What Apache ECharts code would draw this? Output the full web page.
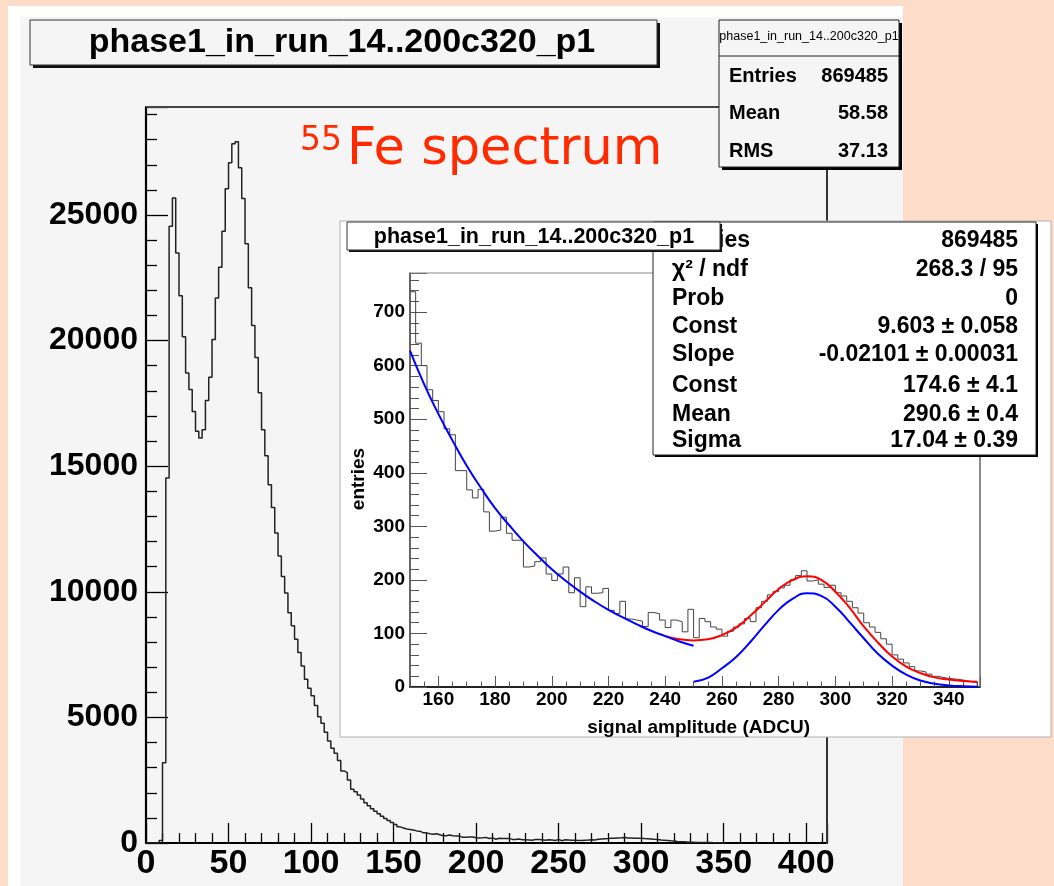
<!DOCTYPE html>
<html><head><meta charset="utf-8">
<script src="https://cdn.jsdelivr.net/npm/echarts@6/dist/echarts.min.js"></script>
<style>html,body{margin:0;padding:0;background:#fddcc9;}#c{width:1054px;height:886px;}</style>
</head><body><div id="c"></div>
<script>
// ---------------- data ----------------
const histTitle = 'phase1_in_run_14..200c320_p1';
const binWidth = 2;
// main histogram: bins of width 2 starting at 0, up to 150
const mainStart = 0;
const mainCountsLow = [
  0, 0, 0, 0, 100, 3190, 14530, 24550, 25680, 23490,
  21790, 20150, 18710, 18050, 17180, 16390, 16120, 16450, 17620, 18540,
  20040, 21700, 22920, 24350, 26050, 27080, 27840, 27920, 26880, 25660,
  23860, 22100, 20600, 19330, 17920, 16450, 15420, 14260, 13360, 12340,
  11430, 10610, 9950, 9170, 8650, 8110, 7580, 7050, 6520, 6160,
  5860, 5470, 5030, 4770, 4410, 4060, 3770, 3570, 3280, 2870,
  2800, 2510, 2140, 2040, 1910, 1750, 1600, 1480, 1360, 1260,
  1160, 1060, 980, 900, 820
];
// zoomed histogram: bins of width 2 from 150 to 350
const insetStart = 150;
const insetCounts = [
  738, 642, 600, 555, 535, 514, 482, 471, 404, 404,
  368, 353, 369, 327, 291, 293, 317, 287, 274, 274,
  224, 226, 234, 241, 211, 199, 211, 224, 176, 204,
  150, 187, 175, 176, 184, 143, 137, 160, 127, 125,
  123, 113, 139, 137, 125, 111, 125, 122, 103, 145,
  92, 128, 122, 112, 108, 95, 104, 112, 118, 128,
  122, 148, 160, 172, 178, 185, 190, 200, 208, 217,
  198, 200, 192, 186, 190, 176, 170, 160, 148, 138,
  120, 112, 102, 90, 80, 60, 52, 45, 38, 30,
  28, 24, 20, 18, 16, 15, 14, 12, 10, 8
];
// fit curves
const expFit = [[150,628],[155,565],[160,510],[165,460],[170,413],[175,372],[180,334],[185,302],[190,272],[195,245],[200,220],[205,198],[210,178],[215,160],[220,144],[225,130],[230,117],[235,105],[240,95],[245,85],[250,77]];
const totalFit = [[240,95],[245,89],[250,87],[255,89],[260,97],[265,111],[270,133],[275,158],[280,183],[285,200],[290,207],[295,200],[300,178],[305,148],[310,113],[315,83],[320,57],[325,38],[330,26],[335,18],[340,14],[345,11],[350,10]];
const gausFit = [[250,10],[255,17],[260,35],[265,56],[270,84],[275,115],[280,144],[285,165],[290,175],[295,170],[300,150],[305,121],[310,91],[315,62],[320,40],[325,23],[330,12],[335,6],[340,3],[345,1.4],[350,0.6]];
const mainStats = [['Entries','869485'],['Mean','58.58'],['RMS','37.13']];
const fitStats = [['Entries','869485'],['\u03c7\u00b2 / ndf','268.3 / 95'],['Prob','0'],['Const','9.603 \u00b1 0.058'],['Slope','-0.02101 \u00b1 0.00031'],['Const','174.6 \u00b1 4.1'],['Mean','290.6 \u00b1 0.4'],['Sigma','17.04 \u00b1 0.39']];
const insetXName = 'signal amplitude (ADCU)';
const insetYName = 'entries';
const annotSup = '55';
const annotText = 'Fe spectrum';

// ---------------- build ----------------
function histPoints(start, w, counts) {
  const pts = [];
  counts.forEach((c, i) => pts.push([start + i * w, c]));
  const end = start + counts.length * w;
  pts.push([end, counts[counts.length - 1]]);
  pts.push([end, 0]);
  return pts;
}
const mainCounts = mainCountsLow.concat(insetCounts);
const FF = '"Liberation Sans", Arial, sans-serif';

function txt(x, y, text, size, opts) {
  opts = opts || {};
  return {
    type: 'text', x: x, y: y, z: opts.z || 20, zlevel: opts.zlevel || 0, silent: true,
    rotation: opts.rotation || 0,
    style: {
      text: text, fontSize: size, fontWeight: opts.weight || 'bold',
      fontFamily: opts.family || FF, fill: opts.color || '#000',
      align: opts.align || 'left', textAlign: opts.align || 'left',
      verticalAlign: 'middle', textVerticalAlign: 'middle'
    }
  };
}
function rect(x, y, w, h, fill, stroke, lw, z, zl) {
  return { type: 'rect', silent: true, z: z, zlevel: zl, shape: { x: x, y: y, width: w, height: h },
    style: { fill: fill, stroke: stroke || null, lineWidth: lw || 0 } };
}
function line(x1, y1, x2, y2, color, lw, z, zl) {
  return { type: 'line', silent: true, z: z, zlevel: zl, shape: { x1: x1, y1: y1, x2: x2, y2: y2 },
    style: { stroke: color, lineWidth: lw } };
}

const G = [];
// page
G.push(rect(8, 6, 895, 880, '#ffffff', null, 0, 0, 0));
G.push(rect(20, 17, 883, 869, '#f5f5f5', null, 0, 1, 0));
// main frame lines
G.push(line(146, 107, 827, 107, '#444', 2, 5, 0));
G.push(line(827, 107, 827, 844, '#333', 2, 5, 0));
// main title box
G.push(rect(33, 23, 627, 45, '#111', null, 0, 10, 0));
G.push(rect(30, 20, 627, 45, '#f5f5f5', '#333', 1, 11, 0));
G.push(txt(342, 43, histTitle, 34, { z: 12, align: 'center' }));
// main stats box
G.push(rect(722, 23, 180, 147, '#000', null, 0, 10, 0));
G.push(rect(719, 20, 180, 147, '#f5f5f5', '#222', 1, 11, 0));
G.push(line(719, 56, 899, 56, '#222', 1, 12, 0));
G.push(txt(809, 37, histTitle, 12.5, { z: 12, weight: 'normal', align: 'center' }));
mainStats.forEach((r, i) => {
  const y = 76 + i * 37.5;
  G.push(txt(729, y, r[0], 20, { z: 12 }));
  G.push(txt(888, y, r[1], 20, { z: 12, align: 'right' }));
});
// red annotation
G.push(txt(300, 141, annotSup, 33, { z: 12, weight: 'normal', color: '#ff2a00', family: '"DejaVu Sans", sans-serif' }));
G.push(txt(347, 151, annotText, 51, { z: 12, weight: 'normal', color: '#ff2a00', family: '"DejaVu Sans", sans-serif' }));

// inset pad
G.push(rect(340, 221, 711, 516, '#ffffff', '#b0b0b0', 1, 0, 1));
G.push(line(410, 273, 980, 273, '#888', 1, 5, 1));
G.push(line(980, 273, 980, 687, '#666', 1.5, 5, 1));
G.push(txt(810, 728, insetXName, 19, { z: 6, zlevel: 1, align: 'right' }));
G.push(txt(359, 479, insetYName, 19, { z: 6, zlevel: 1, align: 'center', rotation: Math.PI / 2 }));
// inset stats box
G.push(rect(655, 224, 383, 233, '#000', null, 0, 10, 1));
G.push(rect(653, 222, 383, 233, '#ffffff', '#222', 1, 11, 1));
const rowY = [241, 270, 299, 327, 355, 386, 415, 441];
fitStats.forEach((r, i) => {
  G.push(txt(672, rowY[i], r[0], 23, { z: 12, zlevel: 1 }));
  G.push(txt(1018, rowY[i], r[1], 23, { z: 12, zlevel: 1, align: 'right' }));
});
// inset title box
G.push(rect(349, 224, 373, 28, '#111', null, 0, 20, 1));
G.push(rect(347, 222, 373, 28, '#ffffff', '#333', 1, 21, 1));
G.push(txt(534, 237, histTitle, 21.5, { z: 22, zlevel: 1, align: 'center' }));

const lbl = (size, margin, mod) => ({ fontSize: size, fontWeight: 'bold', fontFamily: FF, color: '#000', margin: margin,
  formatter: v => (Math.abs(v / mod - Math.round(v / mod)) < 1e-6 ? String(Math.round(v)) : '') });

const option = {
  animation: false,
  backgroundColor: '#fddcc9',
  grid: [
    { left: 146, top: 107, width: 681, height: 736, containLabel: false, show: false },
    { left: 410, top: 273, width: 570, height: 414, containLabel: false, show: false, zlevel: 1 }
  ],
  xAxis: [
    { type: 'value', gridIndex: 0, min: 0, max: 412.6, interval: 50, zlevel: 0, z: 3,
      axisLine: { show: true, onZero: false, lineStyle: { color: '#000', width: 2.2 } },
      axisTick: { show: true, inside: true, length: 20, lineStyle: { color: '#000', width: 1.3 } },
      minorTick: { show: true, splitNumber: 5, length: 10, lineStyle: { color: '#000', width: 1.3 } },
      axisLabel: lbl(34, 4, 50), splitLine: { show: false }, minorSplitLine: { show: false } },
    { type: 'value', gridIndex: 1, min: 150, max: 351, splitNumber: 10, zlevel: 1, z: 3,
      axisLine: { show: true, onZero: false, lineStyle: { color: '#222', width: 1.8 } },
      axisTick: { show: true, inside: true, length: 11, lineStyle: { color: '#555', width: 1 } },
      minorTick: { show: true, splitNumber: 4, length: 5.5, lineStyle: { color: '#555', width: 1 } },
      axisLabel: lbl(19, 3, 20), splitLine: { show: false }, minorSplitLine: { show: false } }
  ],
  yAxis: [
    { type: 'value', gridIndex: 0, min: 0, max: 29300, interval: 5000, zlevel: 0, z: 3,
      axisLine: { show: true, onZero: false, lineStyle: { color: '#000', width: 2.2 } },
      axisTick: { show: true, inside: true, length: 22, lineStyle: { color: '#000', width: 1.3 } },
      minorTick: { show: true, splitNumber: 5, length: 11, lineStyle: { color: '#000', width: 1.3 } },
      axisLabel: lbl(32, 8, 5000), splitLine: { show: false }, minorSplitLine: { show: false } },
    { type: 'value', gridIndex: 1, min: 0, max: 773, interval: 100, zlevel: 1, z: 3,
      axisLine: { show: true, onZero: false, lineStyle: { color: '#333', width: 1.5 } },
      axisTick: { show: true, inside: true, length: 17, lineStyle: { color: '#555', width: 1 } },
      minorTick: { show: true, splitNumber: 5, length: 9, lineStyle: { color: '#555', width: 1 } },
      axisLabel: lbl(19, 5, 100), splitLine: { show: false }, minorSplitLine: { show: false } }
  ],
  series: [
    { type: 'line', xAxisIndex: 0, yAxisIndex: 0, step: 'end', showSymbol: false, zlevel: 0, z: 4,
      lineStyle: { color: '#222', width: 1.5 }, data: histPoints(mainStart, binWidth, mainCounts) },
    { type: 'line', xAxisIndex: 1, yAxisIndex: 1, step: 'end', showSymbol: false, zlevel: 1, z: 4,
      lineStyle: { color: '#444', width: 1 }, data: histPoints(insetStart, binWidth, insetCounts) },
    { type: 'line', xAxisIndex: 1, yAxisIndex: 1, smooth: true, showSymbol: false, zlevel: 1, z: 5,
      lineStyle: { color: '#ff0000', width: 2 }, data: totalFit },
    { type: 'line', xAxisIndex: 1, yAxisIndex: 1, smooth: true, showSymbol: false, zlevel: 1, z: 6,
      lineStyle: { color: '#0000ff', width: 2 }, data: expFit },
    { type: 'line', xAxisIndex: 1, yAxisIndex: 1, smooth: true, showSymbol: false, zlevel: 1, z: 6,
      lineStyle: { color: '#0000ff', width: 2 }, data: gausFit }
  ],
  graphic: { elements: G }
};
const chart = echarts.init(document.getElementById('c'), null, { renderer: 'canvas' });
chart.setOption(option);
</script></body></html>
